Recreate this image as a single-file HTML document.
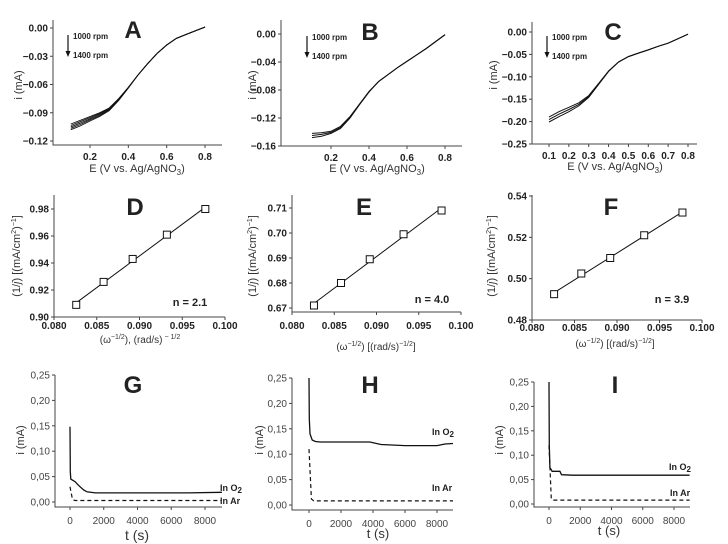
<!DOCTYPE html>
<html><head><meta charset="utf-8"><style>
body{margin:0;background:#fff}
svg{display:block;font-family:"Liberation Sans",Arial,sans-serif}
</style></head><body>
<svg id="fig" width="728" height="544" viewBox="0 0 728 544" xmlns="http://www.w3.org/2000/svg"></svg>
<script>
// ---- data ----
const lsvE = [0.1,0.15,0.2,0.25,0.3,0.35,0.4,0.45,0.5,0.55,0.6,0.65,0.7,0.75,0.8];
const lsvA1000 = [-0.102,-0.098,-0.094,-0.090,-0.085,-0.075,-0.063,-0.050,-0.038,-0.027,-0.018,-0.011,-0.007,-0.003,0.001];
const lsvA1100 = [-0.1035,-0.0995,-0.0952,-0.0910,-0.0857,-0.0755,-0.0632,-0.050,-0.038,-0.027,-0.018,-0.011,-0.007,-0.003,0.001];
const lsvA1200 = [-0.105,-0.101,-0.0964,-0.0920,-0.0864,-0.076,-0.0634,-0.050,-0.038,-0.027,-0.018,-0.011,-0.007,-0.003,0.001];
const lsvA1300 = [-0.1065,-0.1025,-0.0976,-0.0930,-0.0871,-0.0765,-0.0636,-0.050,-0.038,-0.027,-0.018,-0.011,-0.007,-0.003,0.001];
const lsvA1400 = [-0.108,-0.104,-0.0988,-0.0940,-0.0878,-0.077,-0.0638,-0.050,-0.038,-0.027,-0.018,-0.011,-0.007,-0.003,0.001];
const lsvB1000 = [-0.142,-0.141,-0.139,-0.132,-0.118,-0.100,-0.082,-0.068,-0.058,-0.048,-0.039,-0.030,-0.021,-0.011,-0.001];
const lsvB1400 = [-0.148,-0.146,-0.142,-0.135,-0.120,-0.101,-0.083,-0.068,-0.058,-0.048,-0.039,-0.030,-0.021,-0.011,-0.001];
const lsvC1000 = [-0.190,-0.178,-0.168,-0.158,-0.142,-0.115,-0.087,-0.067,-0.055,-0.047,-0.040,-0.032,-0.025,-0.015,-0.005];
const lsvC1400 = [-0.201,-0.189,-0.178,-0.165,-0.146,-0.117,-0.088,-0.067,-0.055,-0.047,-0.040,-0.032,-0.025,-0.015,-0.005];
const klW = [0.0826,0.0858,0.0892,0.0932,0.0977];
const klD = [0.909,0.926,0.943,0.961,0.980];
const klE = [0.671,0.680,0.6895,0.6995,0.709];
const klF = [0.4925,0.5025,0.510,0.521,0.532];
const nLabels = ["n = 2.1","n = 4.0","n = 3.9"];
const tG = [0,20,50,300,500,800,1000,1500,3000,5000,7000,9000];
const iG = [0.148,0.06,0.045,0.040,0.033,0.024,0.020,0.018,0.018,0.018,0.018,0.019];
const tGAr = [0,150,300,9000];
const iGAr = [0.03,0.005,0.003,0.003];
const tH = [0,20,60,200,400,700,3800,4500,6000,8000,8500,9000];
const iH = [0.25,0.17,0.14,0.128,0.125,0.124,0.124,0.119,0.117,0.117,0.120,0.121];
const tHAr = [0,0,150,300,9000];
const iHAr = [0.11,0.11,0.012,0.008,0.008];
const tI = [0,20,60,150,200,700,800,1500,9000];
const iI = [0.25,0.12,0.075,0.070,0.067,0.067,0.060,0.059,0.059];
const tIAr = [0,150,300,9000];
const iIAr = [0.12,0.010,0.008,0.008];

const NS="http://www.w3.org/2000/svg";
const svg=document.getElementById('fig');
function mk(tag,attrs,parent){const e=document.createElementNS(NS,tag);for(const k in attrs)e.setAttribute(k,attrs[k]);(parent||svg).appendChild(e);return e;}
function lin(v1,p1,v2,p2){return v=>p1+(v-v1)*(p2-p1)/(v2-v1);}

function axes(g,c){
  const [l,t,r,b]=c.box;
  const ax=mk('path',{d:`M${l},${t}V${b}H${r}`,stroke:'#444','stroke-width':1,fill:'none'},g);
  
  
  c.xticks.forEach(v=>{const x=c.X(v);
    mk('line',{x1:x,x2:x,y1:b,y2:b+3,stroke:'#444'},g);
    const tx=mk('text',{x:x,y:b+c.xoff,'text-anchor':'middle','font-size':c.fs,'font-weight':c.fw,fill:c.tc},g);
    tx.textContent=c.xf(v);
    
    });
  c.yticks.forEach(v=>{const y=c.Y(v);
    mk('line',{x1:l-3,x2:l,y1:y,y2:y,stroke:'#444'},g);
    const tx=mk('text',{x:l-5,y:y+3.5,'text-anchor':'end','font-size':c.fs,'font-weight':c.fw,fill:c.tc},g);
    tx.textContent=c.yf(v);
    
    });
  const tt=mk('text',{x:c.title[1],y:c.title[2],'text-anchor':'middle','font-size':24,'font-weight':'bold',fill:'#222'},g);
  tt.textContent=c.title[0];
  
  
  const xl=mk('text',{x:c.xl[1],y:c.xl[2],'text-anchor':'middle','font-size':c.xl[3]||11,fill:'#333'},g);
  xl.innerHTML=c.xl[0];
  
  
  const yl=mk('text',{x:0,y:0,'text-anchor':'middle','font-size':11,fill:'#333',transform:`translate(${c.yl[1]},${c.yl[2]}) rotate(-90)`},g);
  yl.innerHTML=c.yl[0];
  
  
}
function line(g,c,xs,ys,dash,w){
  const d=xs.map((x,i)=>(i?'L':'M')+c.X(x).toFixed(1)+','+c.Y(ys[i]).toFixed(1)).join('');
  const p=mk('path',{d:d,fill:'none',stroke:'#111','stroke-width':w||1.1},g);
  if(dash)p.setAttribute('stroke-dasharray',dash);
  return p;
}
function legendArrow(g,x,y){
  mk('line',{x1:x,x2:x,y1:y,y2:y+18,stroke:'#111','stroke-width':1.2},g);
  mk('path',{d:`M${x-2.5},${y+16}L${x+2.5},${y+16}L${x},${y+22}Z`,fill:'#111'},g);
  const a=mk('text',{x:x+5,y:y+4,'font-size':8,'font-weight':'bold',fill:'#222'},g);a.textContent='1000 rpm';
  
  
  const b=mk('text',{x:x+5,y:y+23,'font-size':8,'font-weight':'bold',fill:'#222'},g);b.textContent='1400 rpm';
  
  
}
function panel(name){const g=mk('g',{});return g;}
const f2=v=>v.toFixed(2).replace('-','\u2212'), f1=v=>v.toFixed(1), f3=v=>v.toFixed(3);
const fc=v=>v.toFixed(2).replace('.',','), f0=v=>String(v);
const eLab='E (V vs. Ag/AgNO<tspan font-size="8" dy="3">3</tspan><tspan dy="-3">)</tspan>';

// A
{const g=panel('panel-a');
 const c={box:[53,20,222,145],X:lin(0.2,90,0.8,205),Y:lin(0,28,-0.12,141),xticks:[0.2,0.4,0.6,0.8],yticks:[0,-0.03,-0.06,-0.09,-0.12],
  xf:f1,yf:f2,fs:10,fw:'bold',tc:'#222',xoff:15,title:['A',133,38],xl:[eLab,137,172],yl:['i (mA)',22,85]};
 axes(g,c);[lsvA1000,lsvA1100,lsvA1200,lsvA1300,lsvA1400].forEach(s=>line(g,c,lsvE,s,null,0.9));legendArrow(g,68,35);}
// B
{const g=panel('panel-b');
 const c={box:[281,20,462,146],X:lin(0.2,331,0.8,445),Y:lin(0,34,-0.16,146),xticks:[0.2,0.4,0.6,0.8],yticks:[0,-0.04,-0.08,-0.12,-0.16],
  xf:f1,yf:f2,fs:10,fw:'bold',tc:'#222',xoff:15,title:['B',370,40],xl:[eLab,377,172],yl:['i (mA)',256,85]};
 axes(g,c);[lsvB1000,lsvB1400].forEach(s=>line(g,c,lsvE,s,null,1));
 const mid=lsvB1000.map((v,i)=>(v+lsvB1400[i])/2);line(g,c,lsvE,mid,null,1);legendArrow(g,307,36);}
// C
{const g=panel('panel-c');
 const c={box:[532,22,697,144],X:lin(0.1,549,0.8,688),Y:lin(0,32,-0.25,144),xticks:[0.1,0.2,0.3,0.4,0.5,0.6,0.7,0.8],yticks:[0,-0.05,-0.1,-0.15,-0.2,-0.25],
  xf:f1,yf:f2,fs:10,fw:'bold',tc:'#222',xoff:15,title:['C',613,40],xl:[eLab,615,170],yl:['i (mA)',497,75]};
 axes(g,c);[lsvC1000,lsvC1400].forEach(s=>line(g,c,lsvE,s,null,1));
 const mid=lsvC1000.map((v,i)=>(v+lsvC1400[i])/2);line(g,c,lsvE,mid,null,1);legendArrow(g,547,36);}

const ylK='(1/<tspan font-style="italic">j</tspan>) [(mA/cm<tspan font-size="7" dy="-4">2</tspan><tspan dy="4">)</tspan><tspan font-size="7" dy="-4">−1</tspan><tspan dy="4">]</tspan>';
function kl(name,c,ys,n,nx,ny){const g=panel(name);axes(g,c);
 const m=ys.length,mx=klW.reduce((a,b)=>a+b)/m,my=ys.reduce((a,b)=>a+b)/m;
 let sxy=0,sxx=0;klW.forEach((x,i)=>{sxy+=(x-mx)*(ys[i]-my);sxx+=(x-mx)**2;});const k=sxy/sxx;
 const x0=klW[0],x1=klW[m-1];line(g,c,[x0,x1],[my+k*(x0-mx),my+k*(x1-mx)],null,1);
 klW.forEach((x,i)=>{const r=mk('rect',{x:c.X(x)-3.5,y:c.Y(ys[i])-3.5,width:7,height:7,fill:'#fff',stroke:'#111','stroke-width':1},g);
  });
 const t=mk('text',{x:nx,y:ny,'text-anchor':'middle','font-size':11,'font-weight':'bold',fill:'#222'},g);t.textContent=n;
 }
const kx=[0.08,0.085,0.09,0.095,0.1];
kl('panel-d',{box:[54,195,225,317],X:lin(0.08,54,0.1,225),Y:lin(0.98,209,0.90,317),xticks:kx,yticks:[0.90,0.92,0.94,0.96,0.98],
 xf:f3,yf:f2,fs:10,fw:'bold',tc:'#222',xoff:12,title:['D',135,215],
 xl:['(ω<tspan font-size="7" dy="-4">−1/2</tspan><tspan dy="4">), (rad/s)</tspan><tspan font-size="7" dy="-4"> − 1/2</tspan>',140,343,10],yl:[ylK,20,256]},klD,nLabels[0],190,306);
kl('panel-e',{box:[292,195,461,312],X:lin(0.08,292,0.1,461),Y:lin(0.71,208,0.67,308),xticks:kx,yticks:[0.67,0.68,0.69,0.70,0.71],
 xf:f3,yf:f2,fs:10,fw:'bold',tc:'#222',xoff:17,title:['E',364,215],
 xl:['(ω<tspan font-size="7" dy="-4">−1/2</tspan><tspan dy="4">) [(rad/s)</tspan><tspan font-size="7" dy="-4">−1/2</tspan><tspan dy="4">]</tspan>',376,350,10],yl:[ylK,256,256]},klE,nLabels[1],432,303);
kl('panel-f',{box:[532,195,702,320],X:lin(0.08,532,0.1,702),Y:lin(0.54,196,0.48,320),xticks:kx,yticks:[0.48,0.50,0.52,0.54],
 xf:f3,yf:f2,fs:10,fw:'bold',tc:'#222',xoff:11,title:['F',611,215],
 xl:['(ω<tspan font-size="7" dy="-4">−1/2</tspan><tspan dy="4">) [(rad/s)</tspan><tspan font-size="7" dy="-4">−1/2</tspan><tspan dy="4">]</tspan>',615,347,10],yl:[ylK,495,256]},klF,nLabels[2],672,303);

function ca(name,c,t,i,ta,ia,o2,ar){const g=panel(name);axes(g,c);
 line(g,c,t,i,null,1.3);line(g,c,ta,ia,'4,3',1.2);
 const a=mk('text',{x:o2[0],y:o2[1],'font-size':9,'font-weight':'bold',fill:'#222'},g);a.innerHTML='In O<tspan font-size="8" dy="2">2</tspan>';
 
 const b=mk('text',{x:ar[0],y:ar[1],'font-size':9,'font-weight':'bold',fill:'#222'},g);b.textContent='In Ar';
 }
const tx=[0,2000,4000,6000,8000],iy=[0,0.05,0.1,0.15,0.2,0.25];
ca('panel-g',{box:[55,375,222,507],X:lin(0,70,8000,205),Y:lin(0.25,375,0,502),xticks:tx,yticks:iy,xf:f0,yf:fc,fs:10,fw:'normal',tc:'#444',xoff:17,
 title:['G',133,393],xl:['t (s)',137,540,14],yl:['i (mA)',24,440]},tG,iG,tGAr,iGAr,[220,491],[220,504]);
ca('panel-h',{box:[292,378,453,510],X:lin(0,309,8000,437),Y:lin(0.25,378,0,505),xticks:tx,yticks:iy,xf:f0,yf:fc,fs:10,fw:'normal',tc:'#444',xoff:17,
 title:['H',370,393],xl:['t (s)',378,538,13],yl:['i (mA)',263,440]},tH,iH,tHAr,iHAr,[432,435],[432,491]);
ca('panel-i',{box:[534,382,690,507],X:lin(0,549,8000,674),Y:lin(0.25,382,0,504),xticks:tx,yticks:iy,xf:f0,yf:fc,fs:10,fw:'normal',tc:'#444',xoff:17,
 title:['I',615,393],xl:['t (s)',609,535,13],yl:['i (mA)',503,440]},tI,iI,tIAr,iIAr,[669,470],[670,496]);
</script>
</body></html>
